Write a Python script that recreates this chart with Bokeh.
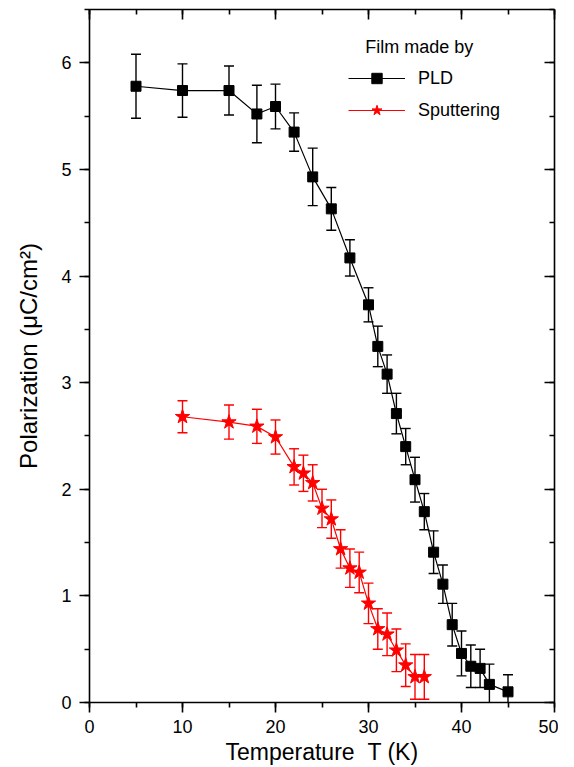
from bokeh.plotting import figure
from bokeh.models import (Range1d, LinearAxis, SingleIntervalTicker, Whisker, TeeHead,
                          ColumnDataSource, Legend, LegendItem, Label)
from bokeh.embed import file_html
from bokeh.resources import INLINE

# ---- data ----
pld_T = [5, 10, 15, 18, 20, 22, 24, 26, 28, 30, 31, 32, 33, 34, 35, 36, 37, 38, 39, 40, 41, 42, 43, 45]
pld_P = [5.78, 5.74, 5.74, 5.52, 5.59, 5.35, 4.93, 4.63, 4.17, 3.73, 3.34, 3.08, 2.71, 2.40,
         2.09, 1.79, 1.41, 1.11, 0.73, 0.46, 0.34, 0.32, 0.17, 0.10]
pld_err = [0.30, 0.25, 0.23, 0.27, 0.21, 0.18, 0.27, 0.20, 0.17, 0.16, 0.19, 0.18, 0.19, 0.17,
           0.21, 0.17, 0.20, 0.18, 0.20, 0.21, 0.20, 0.18, 0.19, 0.16]

sput_T = [10, 15, 18, 20, 22, 23, 24, 25, 26, 27, 28, 29, 30, 31, 32, 33, 34, 35, 36]
sput_P = [2.68, 2.63, 2.59, 2.49, 2.21, 2.15, 2.06, 1.82, 1.72, 1.44, 1.26, 1.22, 0.93, 0.69,
          0.64, 0.49, 0.35, 0.24, 0.24]
sput_err = [0.15, 0.16, 0.16, 0.16, 0.17, 0.17, 0.17, 0.18, 0.18, 0.18, 0.18, 0.19, 0.19, 0.19,
            0.20, 0.20, 0.20, 0.21, 0.21]

x_label = "Temperature\u00a0\u00a0T (K)"
y_label = "Polarization (\u03bcC/cm\u00b2)"
legend_title = "Film made by"
series_names = ["PLD", "Sputtering"]

FONT = "Liberation Sans"

p = figure(width=558, height=767, x_range=Range1d(0, 50), y_range=Range1d(0, 6.5),
           output_backend="svg", toolbar_location=None,
           min_border_left=89, min_border_right=4, min_border_top=9, min_border_bottom=64)
p.outline_line_color = None
p.xgrid.visible = False
p.ygrid.visible = False
p.background_fill_color = "white"
p.border_fill_color = "white"

xt = SingleIntervalTicker(interval=10, num_minor_ticks=2)
yt = SingleIntervalTicker(interval=1, num_minor_ticks=2)

def style_axis(ax, inward=False):
    ax.axis_line_width = 1.6
    ax.axis_line_color = "black"
    ax.major_tick_line_width = 1.6
    ax.minor_tick_line_width = 1.6
    ax.major_tick_line_color = "black"
    ax.minor_tick_line_color = "black"
    if inward:
        ax.major_tick_in = 10
        ax.major_tick_out = 0
        ax.minor_tick_in = 5
        ax.minor_tick_out = 0
        ax.major_label_text_color = None
        ax.major_label_text_alpha = 0
        ax.major_label_text_font_size = "1px"
        ax.major_label_standoff = 0
    else:
        ax.major_tick_in = 0
        ax.major_tick_out = 10
        ax.minor_tick_in = 0
        ax.minor_tick_out = 5
        ax.major_label_text_font = FONT
        ax.major_label_text_font_size = "18px"
        ax.major_label_text_color = "black"
        ax.axis_label_text_font = FONT
        ax.axis_label_text_font_style = "normal"
        ax.axis_label_text_color = "black"

xa = p.xaxis[0]
xa.ticker = xt
style_axis(xa)
xa.axis_label = x_label
xa.axis_label_text_font_size = "23px"
xa.major_label_standoff = 7
xa.axis_label_standoff = 3

ya = p.yaxis[0]
ya.ticker = yt
style_axis(ya)
ya.axis_label = y_label
ya.axis_label_text_font_size = "24px"
ya.major_label_standoff = 8
ya.axis_label_standoff = 16

top = LinearAxis(ticker=xt)
style_axis(top, inward=True)
p.add_layout(top, "above")
right = LinearAxis(ticker=yt)
style_axis(right, inward=True)
p.add_layout(right, "right")

# ---- PLD series ----
src_pld = ColumnDataSource(dict(x=pld_T, y=pld_P,
                                lo=[v - e for v, e in zip(pld_P, pld_err)],
                                hi=[v + e for v, e in zip(pld_P, pld_err)]))
w1 = Whisker(source=src_pld, base="x", lower="lo", upper="hi", dimension="height",
             line_color="black", line_width=1.4,
             upper_head=TeeHead(size=10, line_color="black", line_width=1.4),
             lower_head=TeeHead(size=10, line_color="black", line_width=1.4),
             level="glyph")
p.add_layout(w1)
l1 = p.line("x", "y", source=src_pld, line_color="black", line_width=1.2)
s1 = p.scatter("x", "y", source=src_pld, marker="square", size=10,
               fill_color="black", line_color="black")

# ---- Sputtering series ----
src_sp = ColumnDataSource(dict(x=sput_T, y=sput_P,
                               lo=[v - e for v, e in zip(sput_P, sput_err)],
                               hi=[v + e for v, e in zip(sput_P, sput_err)]))
w2 = Whisker(source=src_sp, base="x", lower="lo", upper="hi", dimension="height",
             line_color="red", line_width=1.4,
             upper_head=TeeHead(size=10, line_color="red", line_width=1.4),
             lower_head=TeeHead(size=10, line_color="red", line_width=1.4),
             level="glyph")
p.add_layout(w2)
l2 = p.line("x", "y", source=src_sp, line_color="red", line_width=1.2)
s2 = p.scatter("x", "y", source=src_sp, marker="star", size=15,
               fill_color="red", line_color="red")

# ---- legend ----
legend = Legend(items=[LegendItem(label=series_names[0], renderers=[l1, s1]),
                       LegendItem(label=series_names[1], renderers=[l2, s2])],
                location=(259, 579), orientation="vertical",
                glyph_width=57, glyph_height=26, label_height=26, spacing=6,
                label_standoff=13, padding=0, margin=0,
                label_text_font=FONT, label_text_font_size="18px", label_text_color="black",
                border_line_alpha=0, background_fill_alpha=0)
p.add_layout(legend)

title_lbl = Label(x=29.65, y=6.145, text=legend_title, text_font=FONT,
                  text_font_size="18px", text_color="black", text_baseline="middle",
                  text_align="left")
p.add_layout(title_lbl)

open("out.html", "w").write(file_html(p, INLINE))
